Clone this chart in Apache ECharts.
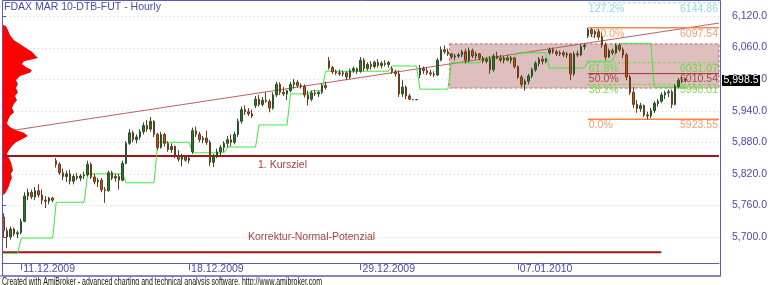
<!DOCTYPE html>
<html><head><meta charset="utf-8">
<script src="https://cdn.jsdelivr.net/npm/echarts@6/dist/echarts.min.js"></script>
<style>html,body{margin:0;padding:0;background:#fff}#c{width:770px;height:285px}</style>
</head><body><div id="c"></div>
<script>
const chartTitle = 'FDAX MAR 10-DTB-FUT - Hourly';
const footerText = 'Created with AmiBroker - advanced charting and technical analysis software. http://www.amibroker.com';

// hourly candles: [open, close, low, high]
const candles = [
[5738,5712,5700,5745],[5712,5700,5679,5718],[5700,5715,5695,5720],[5715,5706,5702,5718],[5706,5708,5698,5712],
[5708,5730,5705,5735],[5730,5778,5728,5785],[5778,5785,5770,5792],[5785,5776,5772,5790],[5776,5788,5770,5795],
[5788,5780,5775,5800],[5780,5770,5762,5790],[5770,5768,5755,5778],[5768,5774,5762,5776],[5774,5770,5766,5776],
[5845,5838,5832,5850],[5838,5822,5818,5842],[5822,5815,5808,5830],[5815,5820,5805,5826],[5820,5806,5800,5828],
[5806,5815,5800,5820],[5815,5812,5808,5822],[5812,5816,5806,5820],[5816,5818,5810,5824],[5818,5838,5815,5845],
[5838,5814,5810,5842],[5814,5805,5800,5820],[5805,5808,5795,5812],[5808,5790,5785,5812],[5790,5788,5765,5795],
[5788,5822,5786,5826],[5822,5812,5808,5826],[5812,5815,5805,5820],[5815,5808,5790,5820],[5808,5840,5806,5845],
[5840,5878,5838,5882],[5878,5898,5875,5905],[5898,5885,5880,5902],[5885,5890,5878,5895],[5890,5900,5885,5905],
[5900,5912,5895,5918],[5912,5905,5900,5922],[5905,5920,5900,5928],[5920,5895,5890,5922],[5895,5870,5865,5898],
[5870,5895,5868,5900],[5895,5878,5872,5898],[5878,5866,5862,5882],[5866,5872,5860,5878],[5872,5855,5850,5874],
[5855,5848,5843,5865],[5848,5852,5834,5858],[5852,5846,5843,5856],[5846,5850,5840,5852],[5862,5902,5858,5908],
[5902,5895,5890,5910],[5895,5885,5880,5900],[5885,5888,5878,5892],[5888,5880,5875,5902],[5880,5842,5835,5884],
[5842,5855,5833,5858],[5855,5862,5850,5868],[5862,5870,5855,5875],[5870,5878,5862,5882],[5878,5885,5870,5892],
[5885,5880,5872,5895],[5880,5895,5876,5900],[5895,5920,5890,5925],[5920,5942,5915,5948],[5942,5938,5932,5950],
[5938,5934,5930,5945],[5934,5930,5926,5942],[5950,5962,5945,5968],[5962,5952,5948,5970],[5952,5960,5948,5966],
[5960,5958,5955,5975],[5958,5945,5937,5962],[5945,5970,5942,5975],[5970,5990,5966,5995],[5990,5975,5970,5994],
[5975,5972,5968,5985],[5972,5978,5960,5980],[5978,5990,5975,5995],[5990,5994,5982,6000],[5994,5988,5984,5998],
[5988,5986,5982,5992],[5986,5970,5965,5990],[5970,5962,5950,5978],[5962,5974,5958,5978],[5974,5972,5968,5980],
[5972,5975,5966,5978],[5975,5988,5972,5992],[5988,5984,5980,5995],[6035,6022,6018,6042],[6022,6014,6010,6025],
[6014,6012,6008,6018],[6012,6010,6006,6018],[6010,6012,6005,6016],[6012,6004,5998,6015],[6004,6016,6000,6020],
[6016,6020,6012,6024],[6020,6015,6010,6022],[6015,6036,6012,6042],[6036,6020,6015,6040],[6020,6028,6016,6032],
[6028,6024,6018,6034],[6024,6032,6020,6035],[6032,6026,6022,6038],[6026,6030,6020,6034],[6030,6028,6024,6036],
[6028,6032,6022,6034],[6020,6014,6010,6024],[6014,6010,6005,6018],[6010,5972,5966,6017],[5972,5985,5966,5998],
[5985,5968,5962,5988],[5968,5962,5960,5972],[5961,5961,5960,5962],[5961,5961,5960,5962],[6008,6020,6002,6027],
[6020,6016,6010,6024],[6016,6012,6008,6022],[6012,6010,6006,6018],[6010,6008,6004,6015],[6008,6036,6006,6040],
[6036,6056,6034,6062],[6056,6052,6048,6064],[6052,6048,6044,6058],[6048,6042,6038,6050],[6042,6044,6036,6048],
[6044,6046,6040,6050],[6046,6052,6042,6056],[6052,6036,6030,6058],[6036,6054,6032,6060],[6054,6044,6040,6058],
[6044,6048,6038,6052],[6048,6040,6036,6050],[6040,6034,6030,6044],[6034,6038,6030,6042],[6038,6018,6010,6044],
[6018,6044,6014,6048],[6044,6040,6038,6052],[6040,6036,6032,6046],[6036,6040,6030,6044],[6040,6036,6034,6046],
[6036,6040,6030,6044],[6040,6024,6020,6042],[6024,6004,6000,6026],[6004,5990,5985,6008],[5990,5996,5978,6000],
[5996,6006,5990,6010],[6006,6018,6002,6022],[6018,6030,6014,6034],[6030,6038,6024,6042],[6038,6034,6028,6044],
[6034,6038,6030,6040],[6050,6056,6046,6060],[6056,6052,6048,6060],[6052,6048,6044,6056],[6048,6050,6044,6054],
[6050,6046,6042,6054],[6046,6048,6040,6052],[6048,6010,5998,6050],[6010,6048,6006,6052],[6048,6046,6042,6054],
[6046,6062,6044,6066],[6062,6064,6056,6068],[6082,6094,6078,6097.54],[6094,6086,6080,6097],[6086,6090,6078,6094],
[6090,6080,6075,6095],[6080,6065,6060,6088],[6065,6042,6036,6070],[6042,6054,6040,6058],[6054,6050,6046,6058],
[6050,6064,6048,6068],[6064,6056,6052,6068],[6056,6046,6040,6060],[6046,6004,5998,6050],[6004,5975,5970,6008],
[5975,5952,5945,5985],[5952,5944,5936,5960],[5944,5950,5938,5955],[5950,5932,5928,5952],[5932,5930,5923.55,5938],
[5930,5940,5926,5945],[5940,5954,5936,5958],[5954,5958,5948,5962],[5958,5970,5955,5975],[5970,5974,5962,5978],
[5974,5976,5966,5980],[5976,5952,5945,5980],[5952,5986,5950,5990],[5986,5998,5982,6002],[5998,5999,5992,6004],
[5999,5998.5,5994,6002]
];

// green stop line, one value per bar
const stopLine = [
5669,5669,5669,5669,5669,
5698,5698,5698,5698,5698,5698,5698,5698,5698,5698,
5766,5766,5766,5766,5766,5766,5766,5766,5766,
5820,5820,5820,5820,5820,5820,5820,5820,5820,5820,5820,
5803,5803,5803,5803,5803,5803,5803,5803,5803,
5880,5880,5880,5880,5880,5880,5880,5880,5880,5880,
5860,5860,5860,5860,5860,5860,5860,5860,5860,5860,
5871,5871,5871,5871,5871,5871,5871,5871,5871,
5913,5913,5913,5913,5913,5913,5913,5913,5913,
5972,5972,5972,5972,5972,5972,
5978,5978,5978,5978,
6015,6015,6015,6015,6015,6015,6015,6015,6015,6015,6015,6015,6015,6015,6015,6015,6015,6015,6015,
6025,6025,6025,6025,6025,6025,6025,6025,
5981,5981,5981,5981,5981,5981,5981,5981,5981,
6031,6031,6031,6031,6031,6031,6031,6031,6031,
6040,6040,6040,6040,6040,6040,6040,6040,6040,6040,
6050,6050,6050,6050,6050,6050,6050,6050,6050,
6021,6021,6021,6021,6021,6021,6021,6021,6021,6021,6021,
6034,6034,6034,6034,6034,6034,6034,6034,
6050,
6068,6068,6068,6068,6068,6068,6068,6068,6068,6068,
5985,5985,5985,5985,5985,5985,5985,5985,5985,5985
];

const slotCount = 205;
const dateTickIdx = [5, 53, 102, 147];
const dateTickLabels = ['11.12.2009', '18.12.2009', '29.12.2009', '07.01.2010'];
const yTicks = [5700, 5760, 5820, 5880, 5940, 6000, 6060, 6120];

// volume-at-price profile
const profilePrice = [6101,6093,6084,6074,6067,6059,6052,6046,6040,6034,6029,6023,6017,6012,6006,5998,5991,5983,5975,5968,5960,5953,5945,5937,5930,5922,5915,5909,5903,5898,5892,5886,5880,5873,5865,5858,5850,5842,5835,5827,5820,5812,5804,5797,5789,5782];
const profileVol = [4,6,8,12,18,24,30,33,36,22,20,24,30,28,18,14,16,14,16,13,15,12,10,12,8,6,5,8,14,22,26,20,14,10,7,5,7,9,10,11,9,10,8,7,5,3];

// fibonacci
const fibPct = ['127.2%', '100.0%', '61.8%', '50.0%', '38.2%', '0.0%'];
const fibVal = [6144.86, 6097.54, 6031.07, 6010.54, 5990.01, 5923.55];
const fibStartIdx = 167;

// horizontal targets
const targetVal = [5854, 5671];
const targetText = ['1. Kursziel', 'Korrektur-Normal-Potenzial'];
const targetEndIdx = [null, 188];

// zone box
const zoneTop = 6067, zoneBottom = 5983, zoneStartIdx = 128;

// trend line anchor points [barIndex, price]
const trendPts = [[0, 5900], [195, 6097]];

const yMin = 5650.6, yMax = 6150.4;
const FONT = '"Liberation Sans", Arial, sans-serif';
const BLUE = '#5a5ab4';
const LBL = '#4a4aa6';

const fmt = (v, d) => v.toLocaleString('en-US', {minimumFractionDigits: d, maximumFractionDigits: d});

const chart = echarts.init(document.getElementById('c'), null, {renderer: 'canvas'});
const cats = [];
for (let i = 0; i < slotCount; i++) cats.push(String(i));
const isDateTick = (i) => dateTickIdx.indexOf(i) >= 0;

const fibLine = [
  {color: '#8fd9df', type: [3, 2], width: 1, text: '#8fd9df'},
  {color: '#f0884a', type: 'solid', width: 1.5, text: '#f2a070'},
  {color: '#66dd44', type: [3, 2], width: 1, text: '#66dd44'},
  {color: '#a83030', type: 'solid', width: 1, text: '#a84848'},
  {color: '#66dd44', type: [3, 2], width: 1, text: '#77e055'},
  {color: '#f0884a', type: 'solid', width: 1.5, text: '#f2a070'}
];

const option = {
  animation: false,
  backgroundColor: '#fff',
  grid: {left: 2, right: 50, top: 0, height: 263},
  xAxis: [
    {type: 'category', data: cats, boundaryGap: true, gridIndex: 0,
     axisLine: {show: true, lineStyle: {color: BLUE}},
     axisTick: {show: true, interval: (i) => isDateTick(i), alignWithLabel: true, length: 7, lineStyle: {color: BLUE}},
     axisLabel: {interval: (i) => isDateTick(i), formatter: (v, i) => dateTickLabels[dateTickIdx.indexOf(i)] || '',
       align: 'left', margin: 1, padding: [0, 0, 0, 2], color: LBL, fontSize: 10.5, fontFamily: FONT},
     splitLine: {show: false}},
    {type: 'value', min: 0, max: 718, show: false, gridIndex: 0}
  ],
  yAxis: [{type: 'value', position: 'right', min: yMin, max: yMax, gridIndex: 0,
    axisLine: {show: false},
    axisTick: {show: true, customValues: yTicks, length: 4, lineStyle: {color: BLUE}},
    axisLabel: {customValues: yTicks, formatter: (v) => fmt(v, 1), margin: 13, color: LBL, fontSize: 10.5, fontFamily: FONT},
    splitLine: {show: false}}],
  series: [
    { // zone box
      type: 'custom', xAxisIndex: 0, yAxisIndex: 0, data: [[zoneStartIdx, zoneTop]], z: 1,
      renderItem: (p, api) => {
        const cs = p.coordSys;
        const half = api.size([1, 0])[0] / 2;
        const a = api.coord([zoneStartIdx, zoneTop]);
        const b = api.coord([zoneStartIdx, zoneBottom]);
        const x0 = a[0] - half, x1 = cs.x + cs.width;
        return {type: 'rect', shape: {x: x0, y: a[1], width: x1 - x0, height: b[1] - a[1]},
          style: {fill: 'rgba(176,92,92,0.40)', stroke: '#b87070', lineWidth: 1, lineDash: [3, 2]}};
      }
    },
    { // dotted grid
      type: 'custom', xAxisIndex: 0, yAxisIndex: 0, data: yTicks.map((v) => [0, v]), z: 2,
      renderItem: (p, api) => {
        const cs = p.coordSys;
        const y = Math.round(api.coord([0, api.value(1)])[1]) + 0.5;
        return {type: 'line', shape: {x1: cs.x, y1: y, x2: cs.x + cs.width, y2: y},
          style: {stroke: '#d4d4d4', lineWidth: 1, lineDash: [1, 3]}};
      }
    },
    { // trend line
      type: 'custom', xAxisIndex: 0, yAxisIndex: 0, data: [trendPts[0]], z: 3,
      renderItem: (p, api) => {
        const cs = p.coordSys;
        const a = api.coord(trendPts[0]), b = api.coord(trendPts[1]);
        const k = (b[1] - a[1]) / (b[0] - a[0]);
        const xl = cs.x, xr = cs.x + cs.width;
        return {type: 'line', shape: {x1: xl, y1: a[1] + k * (xl - a[0]), x2: xr, y2: a[1] + k * (xr - a[0])},
          style: {stroke: '#b86262', lineWidth: 1}};
      }
    },
    { // volume profile
      type: 'custom', xAxisIndex: 1, yAxisIndex: 0, data: [[0, profilePrice[0]]], z: 4,
      renderItem: (p, api) => {
        const pts = [api.coord([0, profilePrice[0] + 3])];
        for (let i = 0; i < profilePrice.length; i++) pts.push(api.coord([profileVol[i], profilePrice[i]]));
        pts.push(api.coord([0, profilePrice[profilePrice.length - 1] - 3]));
        return {type: 'polygon', shape: {points: pts}, style: {fill: '#ff0000'}};
      }
    },
    { // target lines
      type: 'custom', xAxisIndex: 0, yAxisIndex: 0, data: targetVal.map((v, i) => [i, v]), z: 5,
      renderItem: (p, api) => {
        const cs = p.coordSys;
        const i = p.dataIndex;
        const y = api.coord([0, targetVal[i]])[1];
        const xe = targetEndIdx[i] == null ? cs.x + cs.width : api.coord([targetEndIdx[i], targetVal[i]])[0];
        const tx = i === 0 ? 258 : 248;
        const ty = i === 0 ? y + 4 : y - 21;
        return {type: 'group', children: [
          {type: 'line', shape: {x1: cs.x, y1: y, x2: xe, y2: y}, style: {stroke: '#a31515', lineWidth: 2}},
          {type: 'text', x: tx, y: ty, style: {text: targetText[i], fill: '#a84040', font: '10.5px ' + FONT, verticalAlign: 'top'}}
        ]};
      }
    },
    { // fibonacci
      type: 'custom', xAxisIndex: 0, yAxisIndex: 0, data: fibVal.map((v, i) => [fibStartIdx, v]), z: 6,
      renderItem: (p, api) => {
        const cs = p.coordSys;
        const i = p.dataIndex;
        const s = fibLine[i];
        const a = api.coord([fibStartIdx, fibVal[i]]);
        const x1 = cs.x + cs.width;
        return {type: 'group', children: [
          {type: 'line', shape: {x1: a[0], y1: a[1], x2: x1, y2: a[1]}, style: {stroke: s.color, lineWidth: s.width, lineDash: s.type === 'solid' ? null : s.type}},
          {type: 'text', x: a[0] + 1, y: a[1] + 0.5, style: {text: fibPct[i], fill: s.text, font: '10.5px ' + FONT, verticalAlign: 'top'}},
          {type: 'text', x: x1 - 1, y: a[1] + 0.5, style: {text: fibVal[i].toFixed(2), fill: s.text, font: '10.5px ' + FONT, verticalAlign: 'top', align: 'right'}}
        ]};
      }
    },
    {type: 'line', name: 'stop', data: stopLine, xAxisIndex: 0, yAxisIndex: 0, showSymbol: false, symbol: 'none',
     lineStyle: {color: '#3be83b', width: 1}, z: 7},
    {type: 'candlestick', data: candles, xAxisIndex: 0, yAxisIndex: 0, barWidth: 2, z: 8,
     itemStyle: {color: '#237a23', color0: '#b4561e', borderColor: '#2c4f2c', borderColor0: '#6e3a1c', borderWidth: 1}}
  ]
};
chart.setOption(option);

// overlay: frame, title, footer, last price tag
const lastClose = candles[candles.length - 1][1];
const yLast = chart.convertToPixel({yAxisIndex: 0}, lastClose);
const meas = document.createElement('canvas').getContext('2d');
meas.font = '10px ' + FONT;
const footW = meas.measureText(footerText).width;
meas.font = '10.5px ' + FONT;
const tagText = fmt(lastClose, 1);
const tagW = meas.measureText(tagText).width;
chart.setOption({graphic: [
  {type: 'rect', shape: {x: 2.5, y: 0.5, width: 718, height: 275.5}, style: {fill: null, stroke: BLUE, lineWidth: 1}, z: 100},
  {type: 'line', shape: {x1: 0, y1: 276, x2: 721, y2: 276}, style: {stroke: BLUE, lineWidth: 1}, z: 100},
  {type: 'text', x: 4, y: 2, style: {text: chartTitle, fill: '#4a4aa6', font: '10.5px ' + FONT}, z: 100},
  {type: 'text', x: 2, y: 277, scaleX: 320 / footW, style: {text: footerText, fill: '#111', font: '10px ' + FONT}, z: 100},
  {type: 'rect', shape: {x: 722, y: Math.round(yLast) - 5, width: tagW + 3, height: 11}, style: {fill: '#000'}, z: 100},
  {type: 'text', x: 723.5, y: Math.round(yLast) + 0.5, style: {text: tagText, fill: '#fff', font: '10.5px ' + FONT, verticalAlign: 'middle'}, z: 101}
]});
</script>
</body></html>
